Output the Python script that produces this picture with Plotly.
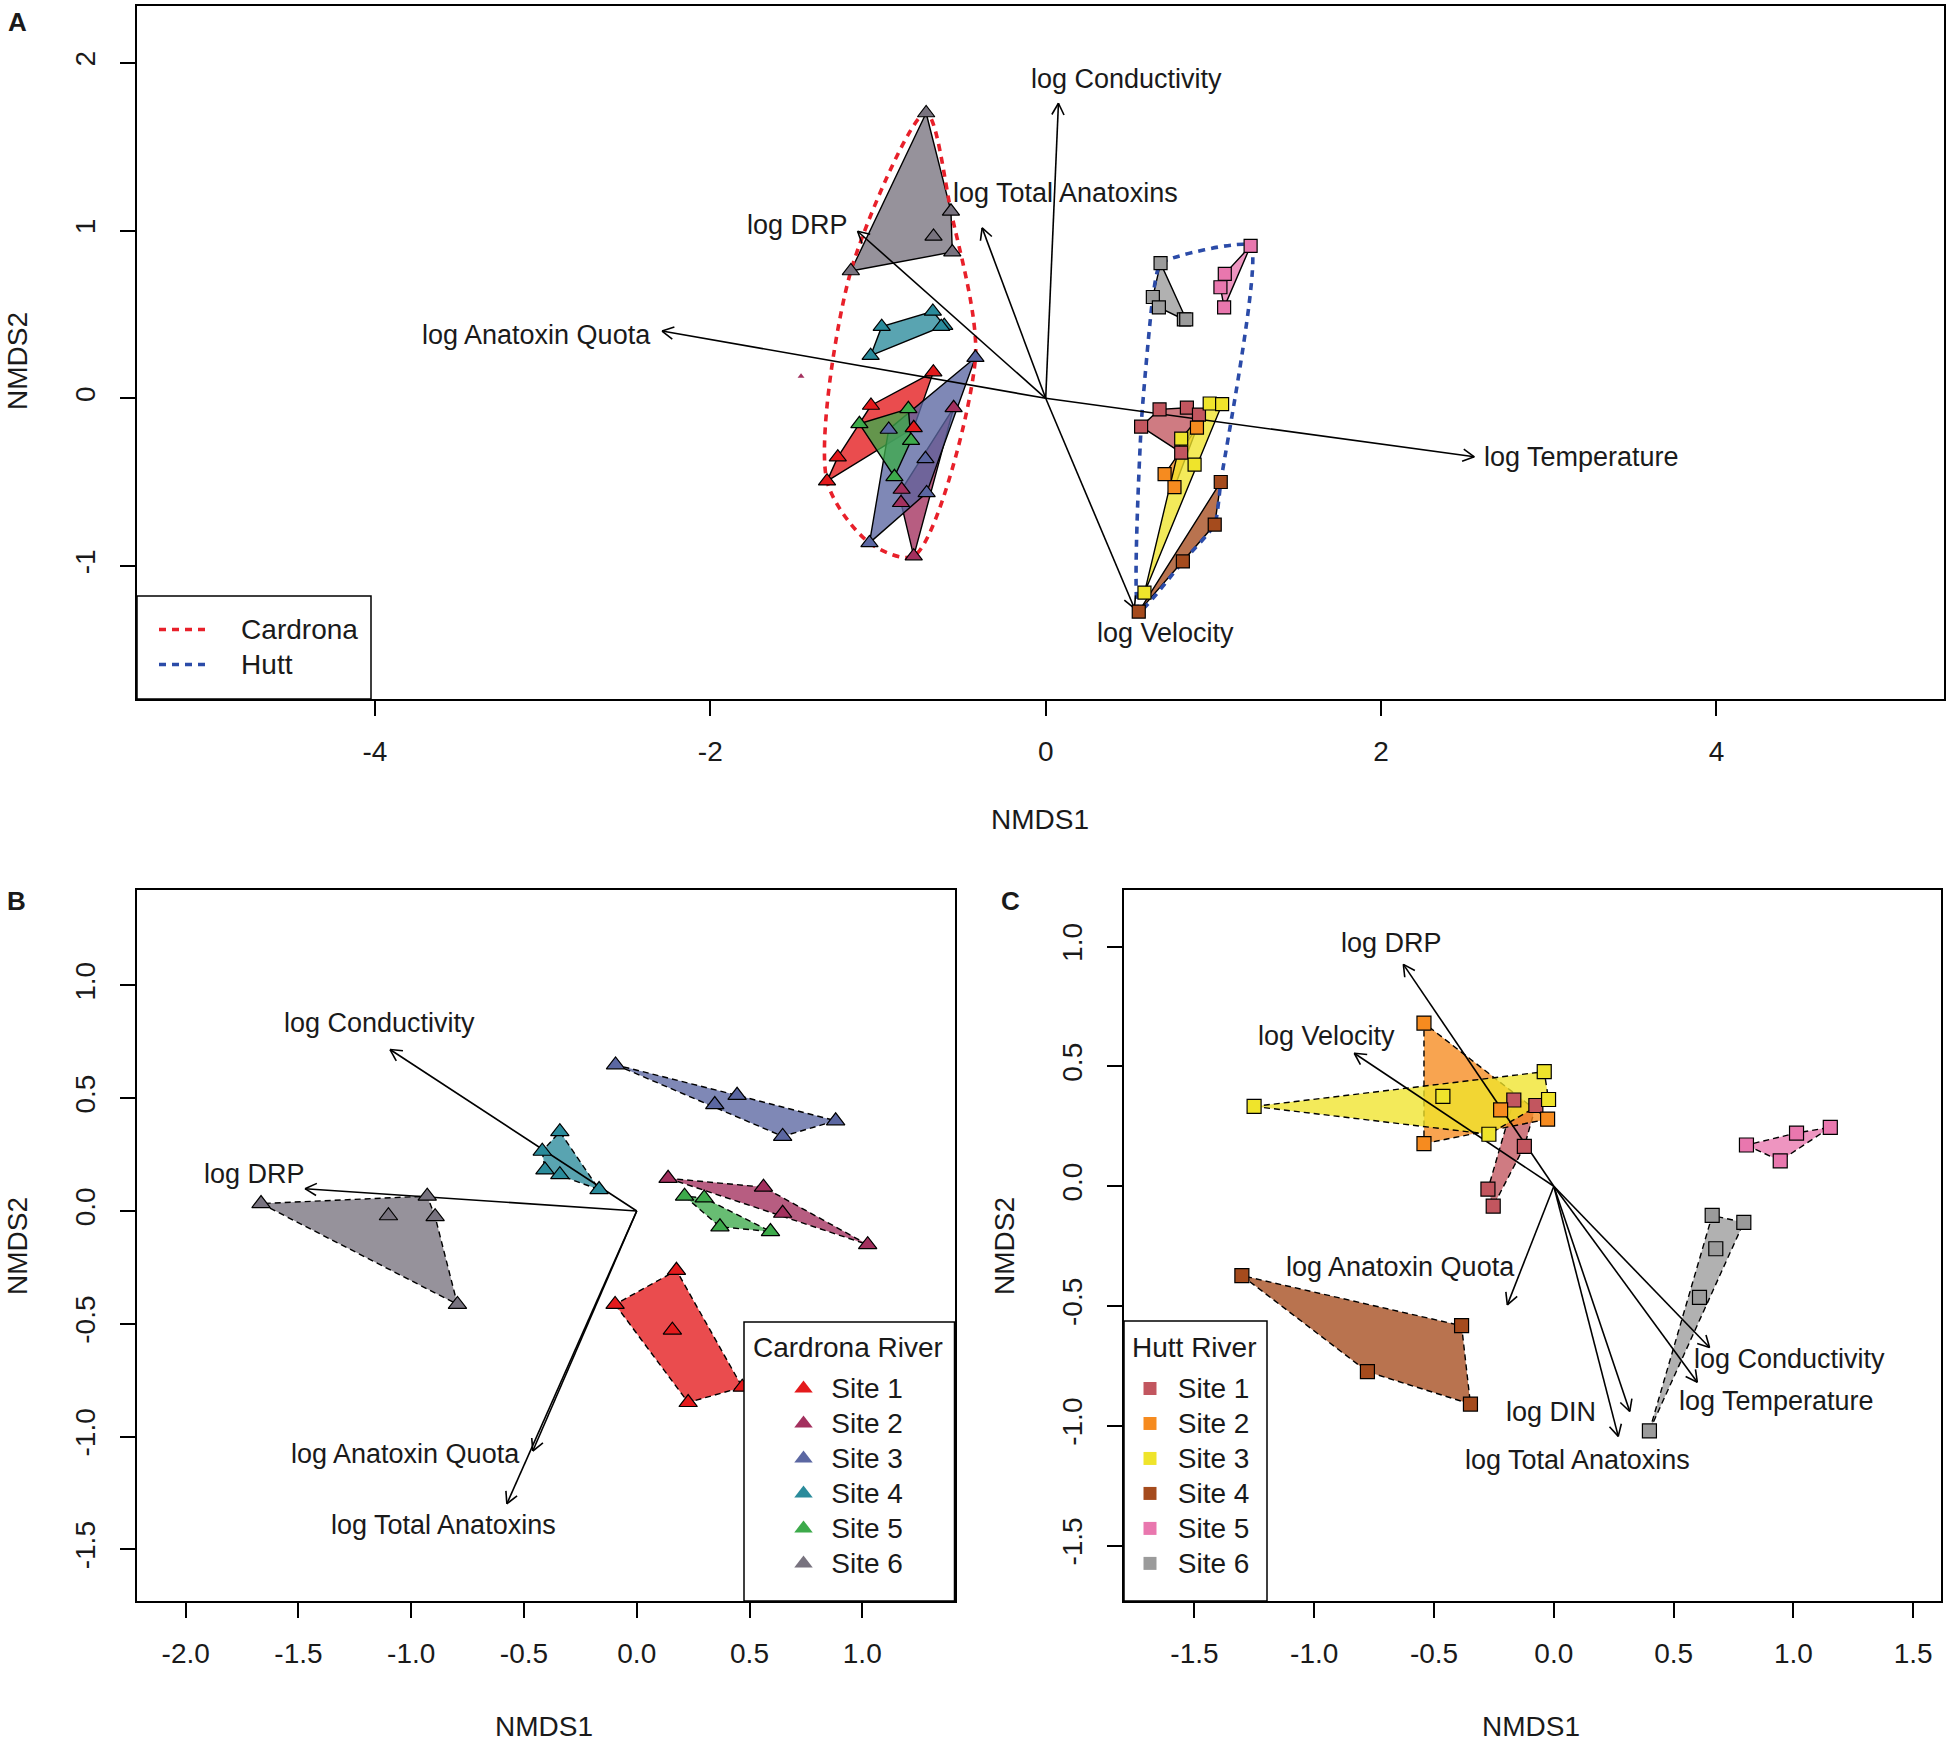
import math
import plotly.graph_objects as go

W, H = 1950, 1742
FONT = "Liberation Sans, Arial, sans-serif"
TXT = "#1a1a1a"

sites = ["Site 1", "Site 2", "Site 3", "Site 4", "Site 5", "Site 6"]
card_cols = ["#E41A1C", "#A3305E", "#5B67A2", "#2A8B9B", "#3DAA4B", "#78737F"]
hutt_cols = ["#C2565F", "#F68B1F", "#EFE42B", "#A54B1D", "#E977AE", "#9B9B9B"]

# ---- panel A : both rivers ----
a_card_x = [[-0.670, -1.042, -0.787, -1.240, -1.304],
            [-0.549, -0.859, -0.863, -0.787],
            [-0.419, -0.936, -0.717, -0.710, -1.051],
            [-0.673, -0.978, -0.605, -0.623, -1.044],
            [-0.819, -1.111, -0.803, -0.902],
            [-0.713, -0.565, -0.669, -0.557, -1.162]]
a_card_y = [[0.156, -0.043, -0.176, -0.351, -0.494],
            [-0.057, -0.544, -0.623, -0.941],
            [0.243, -0.186, -0.361, -0.564, -0.862],
            [0.518, 0.427, 0.433, 0.427, 0.254],
            [-0.063, -0.152, -0.252, -0.468],
            [1.701, 1.115, 0.965, 0.872, 0.759]]
a_hutt_x = [[0.679, 0.842, 0.914, 0.569, 0.808],
            [0.902, 0.709, 0.768],
            [0.978, 1.052, 0.808, 0.888, 0.589],
            [1.044, 1.008, 0.818, 0.555],
            [1.222, 1.068, 1.042, 1.064],
            [0.685, 0.639, 0.675, 0.824, 0.838]]
a_hutt_y = [[-0.066, -0.056, -0.097, -0.169, -0.324],
            [-0.175, -0.452, -0.530],
            [-0.031, -0.035, -0.241, -0.396, -1.159],
            [-0.499, -0.753, -0.973, -1.272],
            [0.909, 0.742, 0.662, 0.542],
            [0.806, 0.604, 0.542, 0.470, 0.470]]
a_extra_x = [-1.459]
a_extra_y = [0.132]

a_vars = ["log Conductivity", "log Total Anatoxins", "log DRP",
          "log Anatoxin Quota", "log Temperature", "log Velocity"]
a_arrow_x = [0.076, -0.379, -1.122, -2.288, 2.556, 0.529]
a_arrow_y = [1.759, 1.016, 0.996, 0.401, -0.349, -1.252]
a_label_x = [0.483, 0.119, -1.478, -3.039, 3.195, 0.713]
a_label_y = [1.902, 1.226, 1.033, 0.379, -0.349, -1.397]

# ---- panel B : Cardrona ----
b_x = [[0.176, -0.096, 0.158, 0.468, 0.228],
       [0.139, 0.562, 0.647, 1.024],
       [-0.094, 0.445, 0.346, 0.882, 0.647],
       [-0.341, -0.419, -0.407, -0.341, -0.167],
       [0.212, 0.299, 0.369, 0.593],
       [-1.666, -0.929, -1.101, -0.894, -0.795]]
b_y = [[-0.263, -0.414, -0.528, -0.781, -0.849],
       [0.145, 0.106, -0.010, -0.149],
       [0.648, 0.513, 0.472, 0.400, 0.331],
       [0.352, 0.265, 0.182, 0.161, 0.095],
       [0.066, 0.058, -0.070, -0.091],
       [0.033, 0.066, -0.021, -0.025, -0.414]]
b_vars = ["log Conductivity", "log DRP", "log Anatoxin Quota", "log Total Anatoxins"]
b_arrow_x = [-1.094, -1.471, -0.461, -0.576]
b_arrow_y = [0.716, 0.099, -1.064, -1.298]
b_label_x = [-1.141, -1.696, -1.024, -0.859]
b_label_y = [0.834, 0.166, -1.077, -1.391]

# ---- panel C : Hutt ----
c_x = [[-0.167, -0.075, -0.123, -0.275, -0.253],
       [-0.542, -0.542, -0.222, -0.026],
       [-1.251, -0.040, -0.022, -0.463, -0.271],
       [-1.302, -0.385, -0.348, -0.778],
       [0.804, 1.013, 1.154, 0.945],
       [0.661, 0.793, 0.676, 0.608, 0.399]]
c_y = [[0.360, 0.337, 0.166, -0.012, -0.083],
       [0.681, 0.178, 0.319, 0.280],
       [0.333, 0.478, 0.362, 0.375, 0.217],
       [-0.373, -0.582, -0.909, -0.774],
       [0.172, 0.222, 0.246, 0.106],
       [-0.122, -0.151, -0.261, -0.464, -1.021]]
c_vars = ["log DRP", "log Velocity", "log Anatoxin Quota", "log DIN",
          "log Total Anatoxins", "log Temperature", "log Conductivity"]
c_arrow_x = [-0.628, -0.833, -0.194, 0.317, 0.269, 0.599, 0.650]
c_arrow_y = [0.926, 0.555, -0.495, -0.940, -1.044, -0.818, -0.673]
c_label_x = [-0.678, -0.947, -0.641, -0.013, 0.099, 0.930, 0.982]
c_label_y = [1.014, 0.629, -0.338, -0.944, -1.141, -0.896, -0.721]


def hull(xs, ys):
    pts = sorted(set(zip(xs, ys)))
    if len(pts) < 3:
        return pts

    def cross(o, a, b):
        return (a[0] - o[0]) * (b[1] - o[1]) - (a[1] - o[1]) * (b[0] - o[0])

    lower, upper = [], []
    for p in pts:
        while len(lower) >= 2 and cross(lower[-2], lower[-1], p) <= 0:
            lower.pop()
        lower.append(p)
    for p in reversed(pts):
        while len(upper) >= 2 and cross(upper[-2], upper[-1], p) <= 0:
            upper.pop()
        upper.append(p)
    return lower[:-1] + upper[:-1]


def rgba(hexcol, a):
    h = hexcol.lstrip("#")
    return "rgba(%d,%d,%d,%.2f)" % (int(h[0:2], 16), int(h[2:4], 16), int(h[4:6], 16), a)


# panel frames in pixels (left, right, top, bottom) and data ranges
frames = {
    "A": (137, 1944, 6, 699, [-5.419, 5.357], [-1.793, 2.339]),
    "B": (137, 954.5, 889.6, 1601, [-2.216, 1.409], [-1.729, 1.425]),
    "C": (1124, 1941, 889.6, 1601, [-1.794, 1.616], [-1.731, 1.238]),
}


def ppu(key):
    l, r, t, b, xr, yr = frames[key]
    return (r - l) / (xr[1] - xr[0]), (b - t) / (yr[1] - yr[0])


def arrow_trace(xs, ys, key, xa, ya):
    # envfit arrows from the origin, with an open V head like R's arrows()
    px, py = ppu(key)
    lx, ly = [], []
    head, ang = 13, math.radians(28)
    for x, y in zip(xs, ys):
        lx += [0, x, None]
        ly += [0, y, None]
        dx, dy = x * px, y * py
        L = math.hypot(dx, dy)
        ux, uy = -dx / L, -dy / L
        for s in (1, -1):
            c, si = math.cos(s * ang), math.sin(s * ang)
            bx = (ux * c - uy * si) * head
            by = (ux * si + uy * c) * head
            lx += [x, x + bx / px, None]
            ly += [y, y + by / py, None]
    return go.Scatter(x=lx, y=ly, mode="lines", xaxis=xa, yaxis=ya,
                      line=dict(color="black", width=1.6), showlegend=False,
                      hoverinfo="skip")


def site_polys(xs_list, ys_list, cols, xa, ya, dash):
    out = []
    for xs, ys, col in zip(xs_list, ys_list, cols):
        hp = hull(xs, ys)
        hx = [p[0] for p in hp] + [hp[0][0]]
        hy = [p[1] for p in hp] + [hp[0][1]]
        out.append(go.Scatter(x=hx, y=hy, mode="lines", fill="toself",
                              fillcolor=rgba(col, 0.78), xaxis=xa, yaxis=ya,
                              line=dict(color="black", width=1.4, dash=dash),
                              showlegend=False, hoverinfo="skip"))
    return out


def site_points(xs_list, ys_list, cols, xa, ya, symbol, size):
    out = []
    for xs, ys, col, nm in zip(xs_list, ys_list, cols, sites):
        out.append(go.Scatter(x=xs, y=ys, mode="markers", xaxis=xa, yaxis=ya,
                              name=nm, showlegend=False,
                              marker=dict(symbol=symbol, size=size, color=col,
                                          line=dict(color="black", width=1.2))))
    return out


def big(s, pad=0):
    # legend text drawn larger than the legend font so rows stay tight like R
    return '<span style="font-size:28px">' + "\u00a0" * pad + s + "</span>"


fig = go.Figure()

# ---- panel A ----
for t in site_polys(a_card_x, a_card_y, card_cols, "x", "y", "solid"):
    fig.add_trace(t)
for t in site_polys(a_hutt_x, a_hutt_y, hutt_cols, "x", "y", "solid"):
    fig.add_trace(t)

for xs_list, ys_list, nm, col, sm in [(a_card_x, a_card_y, "Cardrona", "#E8202A", 0.8),
                                      (a_hutt_x, a_hutt_y, "Hutt", "#2B4BA8", 0.45)]:
    allx = [v for s in xs_list for v in s]
    ally = [v for s in ys_list for v in s]
    hp = hull(allx, ally)
    hx = [p[0] for p in hp] + [hp[0][0]]
    hy = [p[1] for p in hp] + [hp[0][1]]
    fig.add_trace(go.Scatter(x=hx, y=hy, mode="lines", name=big(nm, 4), legend="legend",
                             line=dict(color=col, width=3.6, dash="7px,6px",
                                       shape="spline", smoothing=sm),
                             hoverinfo="skip"))

fig.add_trace(arrow_trace(a_arrow_x, a_arrow_y, "A", "x", "y"))
for t in site_points(a_card_x, a_card_y, card_cols, "x", "y", "triangle-up", 15):
    fig.add_trace(t)
for t in site_points(a_hutt_x, a_hutt_y, hutt_cols, "x", "y", "square", 13):
    fig.add_trace(t)
fig.add_trace(go.Scatter(x=a_extra_x, y=a_extra_y, mode="markers", showlegend=False,
                         marker=dict(symbol="triangle-up", size=6, color=card_cols[1])))

# ---- panel B ----
for t in site_polys(b_x, b_y, card_cols, "x2", "y2", "6px,4px"):
    fig.add_trace(t)
fig.add_trace(arrow_trace(b_arrow_x, b_arrow_y, "B", "x2", "y2"))
for t in site_points(b_x, b_y, card_cols, "x2", "y2", "triangle-up", 16):
    fig.add_trace(t)

# ---- panel C ----
for t in site_polys(c_x, c_y, hutt_cols, "x3", "y3", "6px,4px"):
    fig.add_trace(t)
fig.add_trace(arrow_trace(c_arrow_x, c_arrow_y, "C", "x3", "y3"))
for t in site_points(c_x, c_y, hutt_cols, "x3", "y3", "square", 14):
    fig.add_trace(t)

# legend-only entries for B and C (plain filled symbols like R pch 17 / 15)
for col, nm in zip(card_cols, sites):
    fig.add_trace(go.Scatter(x=[None], y=[None], mode="markers", name=big(nm, 1), legend="legend2",
                             xaxis="x2", yaxis="y2",
                             marker=dict(symbol="triangle-up", size=16, color=col)))
for col, nm in zip(hutt_cols, sites):
    fig.add_trace(go.Scatter(x=[None], y=[None], mode="markers", name=big(nm, 1), legend="legend3",
                             xaxis="x3", yaxis="y3",
                             marker=dict(symbol="square", size=13, color=col)))


# ---- axes ----
def axis(dom, rng, vals, fmt, angle=0, standoff=12):
    return dict(domain=dom, range=rng, tickmode="array", tickvals=vals,
                ticktext=[fmt.format(v) for v in vals], tickangle=angle,
                showline=True, mirror=True, linecolor="black", linewidth=1.5,
                ticks="outside", ticklen=15, tickwidth=1.5, tickcolor="black",
                ticklabelstandoff=standoff, showgrid=False, zeroline=False,
                tickfont=dict(family=FONT, size=28, color=TXT))


layout_axes = {}
names = {"A": ("xaxis", "yaxis", "y", "x"), "B": ("xaxis2", "yaxis2", "y2", "x2"),
         "C": ("xaxis3", "yaxis3", "y3", "x3")}
tick_sets = {
    "A": ([-4, -2, 0, 2, 4], [-1, 0, 1, 2], "{:g}"),
    "B": ([-2.0, -1.5, -1.0, -0.5, 0.0, 0.5, 1.0], [-1.5, -1.0, -0.5, 0.0, 0.5, 1.0], "{:.1f}"),
    "C": ([-1.5, -1.0, -0.5, 0.0, 0.5, 1.0, 1.5], [-1.5, -1.0, -0.5, 0.0, 0.5, 1.0], "{:.1f}"),
}
for k, (xn, yn, ya, xa) in names.items():
    l, r, t, b, xr, yr = frames[k]
    xv, yv, fmt = tick_sets[k]
    xd = axis([l / W, r / W], xr, xv, fmt, standoff=12)
    xd["anchor"] = ya
    yd = axis([1 - b / H, 1 - t / H], yr, yv, fmt, angle=-90, standoff=14)
    yd["anchor"] = xa
    layout_axes[xn] = xd
    layout_axes[yn] = yd

# ---- text ----
ann = []
for labs, lx, ly, xr_, yr_ in [(a_vars, a_label_x, a_label_y, "x", "y"),
                                (b_vars, b_label_x, b_label_y, "x2", "y2"),
                                (c_vars, c_label_x, c_label_y, "x3", "y3")]:
    for s, x, y in zip(labs, lx, ly):
        ann.append(dict(text=s, x=x, y=y, xref=xr_, yref=yr_, showarrow=False,
                        xanchor="center", yanchor="middle",
                        font=dict(family=FONT, size=27, color=TXT)))


def paper_text(s, px, py, angle=0, size=28, bold=False, xanchor="center"):
    return dict(text="<b>%s</b>" % s if bold else s, x=px / W, y=1 - py / H,
                xref="paper", yref="paper", showarrow=False, textangle=angle,
                xanchor=xanchor, yanchor="middle",
                font=dict(family=FONT, size=size, color=TXT))


ann += [paper_text("A", 17, 22, size=26, bold=True),
        paper_text("B", 16, 901, size=26, bold=True),
        paper_text("C", 1010, 901, size=26, bold=True),
        paper_text("NMDS1", 1040, 819), paper_text("NMDS2", 17, 361, angle=-90),
        paper_text("NMDS1", 544, 1726), paper_text("NMDS2", 17, 1246, angle=-90),
        paper_text("NMDS1", 1531, 1726), paper_text("NMDS2", 1004, 1246, angle=-90),
        paper_text("Cardrona River", 751, 1347, size=28, xanchor="left"),
        paper_text("Hutt River", 1130, 1347, size=28, xanchor="left")]


def box(x0, x1, y0, y1):
    return dict(type="rect", xref="paper", yref="paper", x0=x0 / W, x1=x1 / W,
                y0=1 - y1 / H, y1=1 - y0 / H, fillcolor="white",
                line=dict(color="black", width=1.5), layer="above")


shapes = [box(137, 371, 596, 699), box(744, 954.5, 1322, 1601), box(1124, 1267, 1321, 1601)]


def leg(px, py, itemwidth=30):
    return dict(x=px / W, y=1 - py / H, xanchor="left", yanchor="top",
                bgcolor="rgba(0,0,0,0)", borderwidth=0, itemwidth=itemwidth,
                font=dict(family=FONT, size=24.6, color=TXT), tracegroupgap=0)


fig.update_layout(
    width=W, height=H, margin=dict(l=0, r=0, t=0, b=0),
    paper_bgcolor="white", plot_bgcolor="white",
    annotations=ann, shapes=shapes,
    legend=leg(154, 607, 46), legend2=leg(783.5, 1366), legend3=leg(1130, 1366),
    **layout_axes,
)

fig.write_html("out.html", config={"displayModeBar": False},
               post_script="document.body.style.margin='0';")
